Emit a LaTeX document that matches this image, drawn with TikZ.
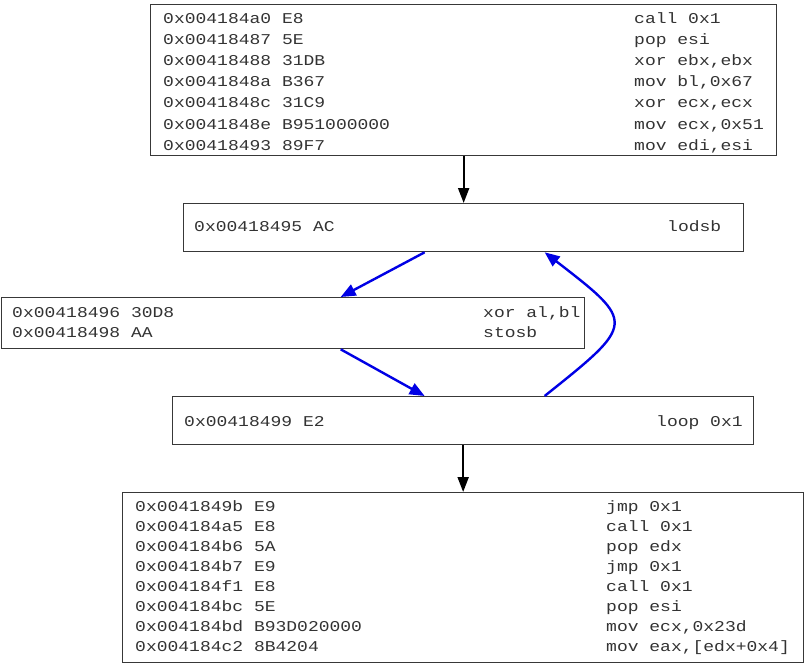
\documentclass[tikz,border=0pt]{standalone}
\usepackage{fontspec}
\setmonofont{Liberation Mono}
\usetikzlibrary{arrows.meta}
\newcommand\asmtx[1]{\scalebox{1.2}[1]{\fontsize{15}{18}\selectfont\ttfamily #1}}
\tikzset{
  box/.style={draw=black!78, line width=1.3pt, fill=white, inner sep=0pt, anchor=north west},
  txt/.style={anchor=base west, inner sep=0pt, text=black!80},
  blk/.style={draw=black, line width=2pt, -{Triangle[width=11pt,length=15pt]}},
  blu/.style={draw=blue!90!black, line width=2.4pt, -{Triangle[width=12pt,length=15pt]}},
}
\begin{document}
\begin{tikzpicture}[x=1pt,y=-1pt]
\fill[white] (0,0) rectangle (806,667);
\useasboundingbox (0,0) rectangle (806,667);
% boxes
\node[box, minimum width=626pt, minimum height=151pt] (b1) at (150,4) {};
\node[box, minimum width=560pt, minimum height=48pt] (b2) at (183,203) {};
\node[box, minimum width=583pt, minimum height=51pt] (b3) at (1,297) {};
\node[box, minimum width=581pt, minimum height=48pt] (b4) at (172,396) {};
\node[box, minimum width=681pt, minimum height=170pt] (b5) at (122,492) {};
% box 1 text
\node[txt] (t11) at (163,23.0) {\asmtx{0x004184a0 E8}};
\node[txt] (t12) at (163,44.2) {\asmtx{0x00418487 5E}};
\node[txt] (t13) at (163,65.4) {\asmtx{0x00418488 31DB}};
\node[txt] (t14) at (163,86.6) {\asmtx{0x0041848a B367}};
\node[txt] (t15) at (163,107.8) {\asmtx{0x0041848c 31C9}};
\node[txt] (t16) at (163,129.0) {\asmtx{0x0041848e B951000000}};
\node[txt] (t17) at (163,150.2) {\asmtx{0x00418493 89F7}};
\node[txt] (r11) at (634,23.0) {\asmtx{call 0x1}};
\node[txt] (r12) at (634,44.2) {\asmtx{pop esi}};
\node[txt] (r13) at (634,65.4) {\asmtx{xor ebx,ebx}};
\node[txt] (r14) at (634,86.6) {\asmtx{mov bl,0x67}};
\node[txt] (r15) at (634,107.8) {\asmtx{xor ecx,ecx}};
\node[txt] (r16) at (634,129.0) {\asmtx{mov ecx,0x51}};
\node[txt] (r17) at (634,150.2) {\asmtx{mov edi,esi}};
% box 2 text
\node[txt] (t21) at (194,231) {\asmtx{0x00418495 AC}};
\node[txt] (r21) at (667,231) {\asmtx{lodsb}};
% box 3 text
\node[txt] (t31) at (12,317.5) {\asmtx{0x00418496 30D8}};
\node[txt] (t32) at (12,337.5) {\asmtx{0x00418498 AA}};
\node[txt] (r31) at (483,317.5) {\asmtx{xor al,bl}};
\node[txt] (r32) at (483,337.5) {\asmtx{stosb}};
% box 4 text
\node[txt] (t41) at (184,426) {\asmtx{0x00418499 E2}};
\node[txt] (r41) at (656,426) {\asmtx{loop 0x1}};
% box 5 text
\node[txt] (t51) at (135,511.0) {\asmtx{0x0041849b E9}};
\node[txt] (t52) at (135,531.1) {\asmtx{0x004184a5 E8}};
\node[txt] (t53) at (135,551.2) {\asmtx{0x004184b6 5A}};
\node[txt] (t54) at (135,571.3) {\asmtx{0x004184b7 E9}};
\node[txt] (t55) at (135,591.4) {\asmtx{0x004184f1 E8}};
\node[txt] (t56) at (135,611.5) {\asmtx{0x004184bc 5E}};
\node[txt] (t57) at (135,631.6) {\asmtx{0x004184bd B93D020000}};
\node[txt] (t58) at (135,651.7) {\asmtx{0x004184c2 8B4204}};
\node[txt] (r51) at (606,511.0) {\asmtx{jmp 0x1}};
\node[txt] (r52) at (606,531.1) {\asmtx{call 0x1}};
\node[txt] (r53) at (606,551.2) {\asmtx{pop edx}};
\node[txt] (r54) at (606,571.3) {\asmtx{jmp 0x1}};
\node[txt] (r55) at (606,591.4) {\asmtx{call 0x1}};
\node[txt] (r56) at (606,611.5) {\asmtx{pop esi}};
\node[txt] (r57) at (606,631.6) {\asmtx{mov ecx,0x23d}};
\node[txt] (r58) at (606,651.7) {\asmtx{mov eax,[edx+0x4]}};
% connectors
\draw[blk] (b1.south) -- (b1.south |- b2.north);
\draw[blu] ([xshift=-39pt]b2.south) -- ([xshift=47.5pt]b3.north);
\draw[blu] ([xshift=47.5pt]b3.south) -- ([xshift=-38.5pt]b4.north);
\draw[blu] ([xshift=81.5pt]b4.north) .. controls (636,323) .. ([xshift=81pt]b2.south);
\draw[blk] (b4.south) -- (b4.south |- b5.north);
\end{tikzpicture}
\end{document}
